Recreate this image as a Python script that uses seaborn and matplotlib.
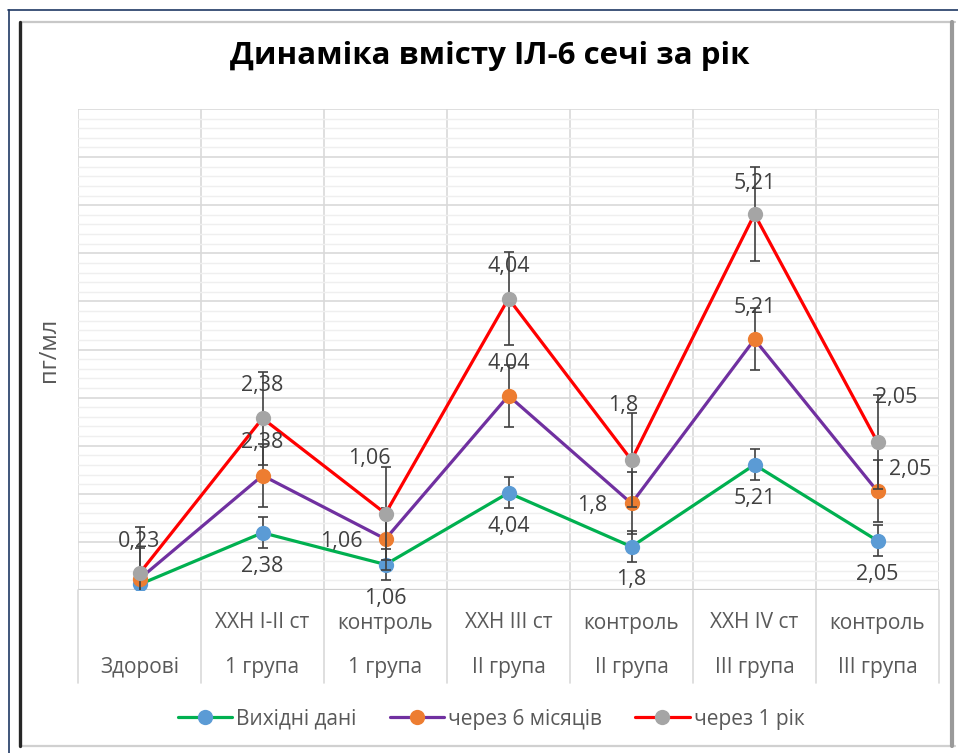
import numpy as np
import pandas as pd
import matplotlib
matplotlib.use("Agg")
import matplotlib.pyplot as plt
import matplotlib.transforms as mtransforms
from matplotlib.lines import Line2D
from matplotlib.ticker import MultipleLocator, NullFormatter
import seaborn as sns

# --- data -------------------------------------------------------------
cat_top = ["", "ХХН I-II ст", "контроль", "ХХН III ст", "контроль", "ХХН IV ст", "контроль"]
cat_bottom = ["Здорові", "1 група", "1 група", "II група", "II група", "III група", "III група"]

baseline = [0.23, 2.38, 1.06, 4.04, 1.8, 5.21, 2.05]   # Вихідні дані
month6 = [0.23, 2.38, 1.06, 4.04, 1.8, 5.21, 2.05]     # через 6 місяців
year1 = [0.23, 2.38, 1.06, 4.04, 1.8, 5.21, 2.05]      # через 1 рік

# error bar half-widths (stacked values)
err_baseline = 0.65
err_month6 = 1.29
err_year1 = 1.94

names = ["Вихідні дані", "через 6 місяців", "через 1 рік"]

# --- style ------------------------------------------------------------
line_cols = ["#00b050", "#7030a0", "#ff0000"]
mark_cols = ["#5b9bd5", "#ed7d31", "#a5a5a5"]

# label offsets in pixels (dx, dy up); None = no label
lab_off = [
    [None, (0, -34), (0, -34), (0, -34), (0, -33), (0, -34), (0, -34)],
    [None, (0, 33), (-44, -2), (0, 32), (-39, -2), (0, 32), (33, 22)],
    [(0, 32), (0, 33), (-16, 55), (0, 32), (-8, 55), (0, 31), (19, 45)],
]

sns.set_theme(style="white")
plt.rcParams["font.family"] = ["Open Sans", "DejaVu Sans"]

W, H = 958, 753
fig = plt.figure(figsize=(W / 100, H / 100), dpi=100)
L, R, T, B = 78, 939, 109, 590
ax = fig.add_axes([L / W, 1 - B / H, (R - L) / W, (B - T) / H])

xpos = np.arange(len(cat_bottom))
vals = [np.array(baseline), np.array(month6), np.array(year1)]
errs = [err_baseline, err_month6, err_year1]
stack = np.cumsum(vals, axis=0)

df = pd.DataFrame({"x": np.tile(xpos, 3), "y": stack.ravel(),
                   "series": np.repeat(names, len(xpos))})

handles = []
for i, name in enumerate(names):
    sub = df[df["series"] == name]
    sns.lineplot(data=sub, x="x", y="y", ax=ax, color=line_cols[i], lw=2.3,
                 marker="o", markersize=11, markerfacecolor=mark_cols[i],
                 markeredgecolor=mark_cols[i], markeredgewidth=0,
                 errorbar=None, legend=False, zorder=4 + i)
    ax.errorbar(sub["x"], sub["y"], yerr=errs[i], fmt="none", ecolor="#404040",
                elinewidth=1.2, capsize=3.3, capthick=1.2, zorder=3 + i)
    handles.append(Line2D([0], [0], color=line_cols[i], lw=2.3, marker="o",
                          markersize=11, markerfacecolor=mark_cols[i],
                          markeredgewidth=0))
    for j in range(len(xpos)):
        off = lab_off[i][j]
        if off is None:
            continue
        ax.annotate(f"{vals[i][j]:g}".replace(".", ","), (xpos[j], stack[i][j]),
                    xytext=(off[0] * 0.72, off[1] * 0.72), textcoords="offset points",
                    ha="center", va="center", fontsize=15.5, color="#404040", zorder=10)

ax.set_xlim(-0.5, 6.5)
ax.set_ylim(0, 20)
ax.yaxis.set_major_locator(MultipleLocator(2))
ax.yaxis.set_minor_locator(MultipleLocator(0.4))
ax.yaxis.set_major_formatter(NullFormatter())
ax.set_xticks(np.arange(-0.5, 7, 1))
ax.set_xticklabels([])
ax.tick_params(axis="both", length=0)
ax.grid(which="minor", axis="y", color="#efefef", lw=1.0)
ax.grid(which="major", axis="y", color="#d9d9d9", lw=1.2)
ax.grid(which="major", axis="x", color="#d9d9d9", lw=1.2)
ax.set_axisbelow(True)
for s in ax.spines.values():
    s.set_visible(False)
ax.axhline(0, color="#cfcfcf", lw=1.6, zorder=1)
ax.set_xlabel("")
ax.set_ylabel("пг/мл", fontsize=17, color="#595959", labelpad=4)
ax.yaxis.set_label_coords(-(L - 61) / (R - L), 0.5)

# two-level category labels with separators
trans = mtransforms.blended_transform_factory(ax.transData, ax.transAxes)
sep_bot = -(683 - B) / (B - T)
for k in np.arange(-0.5, 7, 1):
    ax.add_line(Line2D([k, k], [0, sep_bot], transform=trans, color="#d9d9d9",
                       lw=1.2, clip_on=False))
for j in range(len(xpos)):
    ax.text(xpos[j], -(623 - B) / (B - T), cat_top[j], transform=trans,
            ha="center", va="center", fontsize=15, color="#595959")
    ax.text(xpos[j], -(668 - B) / (B - T), cat_bottom[j], transform=trans,
            ha="center", va="center", fontsize=15, color="#595959")

fig.text(490 / W, 1 - 56 / H, "Динаміка вмісту ІЛ-6 сечі за рік", ha="center",
         va="center", fontsize=22.5, fontweight="bold", color="black")

leg = fig.legend(handles, names, loc="center", bbox_to_anchor=(491 / W, 1 - 719 / H),
                 ncol=3, frameon=False, fontsize=15, handlelength=2.6,
                 handletextpad=0.2, columnspacing=1.6, labelcolor="#595959")


# chart frame
def px_line(x0, y0, x1, y1, **kw):
    fig.add_artist(Line2D([x0 / W, x1 / W], [1 - y0 / H, 1 - y1 / H],
                          transform=fig.transFigure, **kw))


px_line(8, 10, 958, 10, color="#1f3864", lw=1.2)
px_line(9, 10, 9, 753, color="#1f3864", lw=1.2)
px_line(20, 22, 955, 22, color="#c8c8c8", lw=1.6)
px_line(20, 746, 955, 746, color="#d0d0d0", lw=1.6)
px_line(952, 22, 952, 746, color="#9a9a9a", lw=3.0)
px_line(20, 22, 20, 746, color="#262626", lw=2.4)

fig.savefig("out.png", dpi=100)
